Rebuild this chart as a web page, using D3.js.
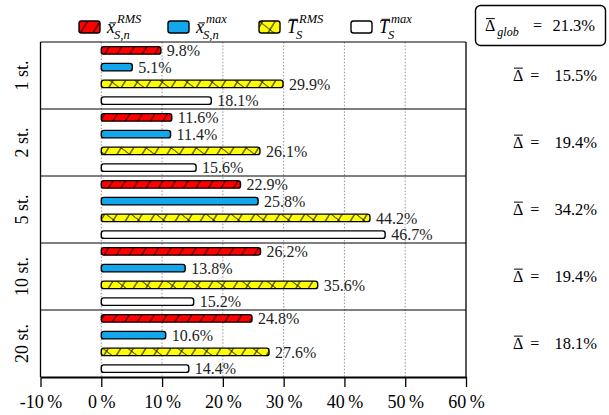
<!DOCTYPE html>
<html>
<head>
<meta charset="utf-8">
<script src="https://cdn.jsdelivr.net/npm/d3@7"></script>
<style>
  html, body { margin: 0; padding: 0; background: #fff; }
  svg { display: block; }
  svg text { font-family: "Liberation Serif", "DejaVu Serif", serif; }
</style>
</head>
<body>
<svg id="chart" width="609" height="415"></svg>
<script>
// Relative deviations per stage count
const groups = ["1 st.", "2 st.", "5 st.", "10 st.", "20 st."];
const seriesKeys = ["xRms", "xMax", "tRms", "tMax"];
const xRms = [9.8, 11.6, 22.9, 26.2, 24.8];
const xMax = [5.1, 11.4, 25.8, 13.8, 10.6];
const tRms = [29.9, 26.1, 44.2, 35.6, 27.6];
const tMax = [18.1, 15.6, 46.7, 15.2, 14.4];
const deltaMean = [15.5, 19.4, 34.2, 19.4, 18.1];
const deltaGlob = 21.3;
const xTicks = [-10, 0, 10, 20, 30, 40, 50, 60];
const gridTicks = [0, 10, 20, 30, 40, 50];

const seriesValues = { xRms, xMax, tRms, tMax };
const seriesStyle = {
  xRms: { fill: "#ff0000", hatch: ["hatchSlash"] },
  xMax: { fill: "#12a6ec", hatch: [] },
  tRms: { fill: "#ffff00", hatch: ["hatchSlash", "hatchBack"] },
  tMax: { fill: "#ffffff", hatch: [] }
};
const legendItems = [
  { key: "xRms", base: "x", sup: "RMS", sub: "S,n" },
  { key: "xMax", base: "x", sup: "max", sub: "S,n" },
  { key: "tRms", base: "T", sup: "RMS", sub: "S" },
  { key: "tMax", base: "T", sup: "max", sub: "S" }
];

const FONT = "Liberation Serif";
const svg = d3.select("#chart");
const plotLeft = 40.5, plotRight = 466, plotTop = 42, plotBottom = 377;

const x = d3.scaleLinear().domain([-10, 60]).range([plotLeft, plotRight]);
const y = d3.scaleBand().domain(groups).range([plotTop, plotBottom]);
const ySub = d3.scaleBand().domain(seriesKeys).range([0, y.bandwidth()]);
const barH = 7.5;

// Hatch patterns
const defs = svg.append("defs");
defs.append("pattern")
  .attr("id", "hatchSlash").attr("patternUnits", "userSpaceOnUse")
  .attr("width", 12.5).attr("height", 10)
  .attr("patternTransform", "skewX(-32)")
  .append("line").attr("x1", 1).attr("x2", 1).attr("y1", -1).attr("y2", 11)
  .attr("stroke", "#000").attr("stroke-width", 1.1);
defs.append("pattern")
  .attr("id", "hatchBack").attr("patternUnits", "userSpaceOnUse")
  .attr("width", 25).attr("height", 10)
  .attr("patternTransform", "translate(6,0) skewX(52)")
  .append("line").attr("x1", 1).attr("x2", 1).attr("y1", -1).attr("y2", 11)
  .attr("stroke", "#000").attr("stroke-width", 1.1);

// Dotted vertical grid
svg.append("g").selectAll("line").data(gridTicks).join("line")
  .attr("x1", d => x(d)).attr("x2", d => x(d))
  .attr("y1", plotTop).attr("y2", plotBottom)
  .attr("stroke", "#777").attr("stroke-width", 0.8)
  .attr("stroke-dasharray", "1.5,1.8");

// Group separators
svg.append("g").selectAll("line").data(groups.slice(1)).join("line")
  .attr("x1", plotLeft).attr("x2", plotRight)
  .attr("y1", d => y(d)).attr("y2", d => y(d))
  .attr("stroke", "#000").attr("stroke-width", 1);

// Frame
svg.append("line").attr("x1", plotLeft).attr("x2", plotRight).attr("y1", plotTop).attr("y2", plotTop)
  .attr("stroke", "#000").attr("stroke-width", 1);
svg.append("line").attr("x1", plotLeft).attr("x2", plotLeft).attr("y1", plotTop).attr("y2", plotBottom)
  .attr("stroke", "#000").attr("stroke-width", 1.3);
svg.append("line").attr("x1", plotRight).attr("x2", plotRight).attr("y1", plotTop).attr("y2", plotBottom)
  .attr("stroke", "#000").attr("stroke-width", 1.3);

// Bars
function drawBar(g, x0, y0, w, h, key) {
  const st = seriesStyle[key];
  g.append("rect").attr("x", x0).attr("y", y0).attr("width", w).attr("height", h)
    .attr("rx", 2.5).attr("fill", st.fill);
  st.hatch.forEach(p => {
    g.append("rect").attr("x", x0).attr("y", y0).attr("width", w).attr("height", h)
      .attr("rx", 2.5).attr("fill", `url(#${p})`);
  });
  g.append("rect").attr("x", x0).attr("y", y0).attr("width", w).attr("height", h)
    .attr("rx", 2.5).attr("fill", "none").attr("stroke", "#000").attr("stroke-width", 1.4);
}

const barsG = svg.append("g");
groups.forEach((grp, gi) => {
  seriesKeys.forEach(key => {
    const v = seriesValues[key][gi];
    const cy = y(grp) + ySub(key) + ySub.bandwidth() / 2;
    drawBar(barsG, x(0), cy - barH / 2, x(v) - x(0), barH, key);
    barsG.append("text")
      .attr("x", x(v) + 6).attr("y", cy).attr("dy", "0.36em")
      .attr("font-family", FONT).attr("font-size", 16).attr("fill", "#222")
      .text(v.toFixed(1) + "%");
  });
});

// Bottom axis
const axis = d3.axisBottom(x).tickValues(xTicks).tickSize(10).tickSizeOuter(0)
  .tickFormat(d => d + "\u2009%");
const axG = svg.append("g").attr("transform", `translate(0,${plotBottom})`).call(axis);
axG.select(".domain").attr("stroke-width", 2);
axG.selectAll(".tick line").attr("stroke-width", 1.3);
axG.selectAll(".tick text").attr("font-size", 18).attr("font-family", FONT)
  .attr("fill", "#000").attr("dy", "1.0em");

// Group labels, rotated
svg.append("g").selectAll("text").data(groups).join("text")
  .attr("transform", d => `translate(28,${y(d) + y.bandwidth() / 2}) rotate(-90)`)
  .attr("text-anchor", "middle").attr("font-family", FONT).attr("font-size", 18)
  .text(d => d);

// Helper: letter with overbar
function barredSymbol(g, x0, baseline, base, opts) {
  const t = g.append("text").attr("x", x0).attr("y", baseline)
    .attr("font-family", FONT).attr("font-size", opts.size)
    .attr("font-style", opts.italic ? "italic" : "normal").text(base);
  const w = t.node().getComputedTextLength();
  const capTop = baseline - opts.size * (base === "x" ? 0.46 : 0.66);
  const shift = opts.italic ? 1.5 : 0;
  g.append("line")
    .attr("x1", x0 + 1 + shift).attr("x2", x0 + w - 0.5 + shift)
    .attr("y1", capTop - 1.8).attr("y2", capTop - 1.8)
    .attr("stroke", "#000").attr("stroke-width", 1);
  return x0 + w;
}

// Legend
const legendX = [79, 168, 259, 351];
const legG = svg.append("g");
legendItems.forEach((it, i) => {
  const lx = legendX[i];
  drawBar(legG, lx, 21, 21, 12, it.key);
  const endX = barredSymbol(legG, lx + 28, 33, it.base, { size: 18, italic: true });
  legG.append("text").attr("x", endX + 2).attr("y", 22.5)
    .attr("font-family", FONT).attr("font-size", 12.5).attr("font-style", "italic").text(it.sup);
  legG.append("text").attr("x", endX - 1).attr("y", 39)
    .attr("font-family", FONT).attr("font-size", 12.5).attr("font-style", "italic").text(it.sub);
});

// Per-group mean deviation
const dG = svg.append("g");
groups.forEach((grp, gi) => {
  const cy = y(grp) + y.bandwidth() / 2 + 5;
  const e1 = barredSymbol(dG, 513, cy, "\u0394", { size: 16, italic: false });
  dG.append("text").attr("x", e1 + 7).attr("y", cy)
    .attr("font-family", FONT).attr("font-size", 16).text("=");
  dG.append("text").attr("x", 597).attr("y", cy).attr("text-anchor", "end")
    .attr("font-family", FONT).attr("font-size", 16.5).text(deltaMean[gi].toFixed(1) + "%");
});

// Global mean deviation box
const gG = svg.append("g");
gG.append("rect").attr("x", 475.5).attr("y", 5.5).attr("width", 130).attr("height", 40)
  .attr("rx", 5).attr("fill", "#fff").attr("stroke", "#000").attr("stroke-width", 1.4);
const gb = barredSymbol(gG, 485, 31, "\u0394", { size: 16, italic: false });
gG.append("text").attr("x", gb + 2).attr("y", 36)
  .attr("font-family", FONT).attr("font-size", 12).attr("font-style", "italic").text("glob");
gG.append("text").attr("x", 533).attr("y", 31)
  .attr("font-family", FONT).attr("font-size", 16).text("=");
gG.append("text").attr("x", 595).attr("y", 31).attr("text-anchor", "end")
  .attr("font-family", FONT).attr("font-size", 16.5).text(deltaGlob.toFixed(1) + "%");
</script>
</body>
</html>
